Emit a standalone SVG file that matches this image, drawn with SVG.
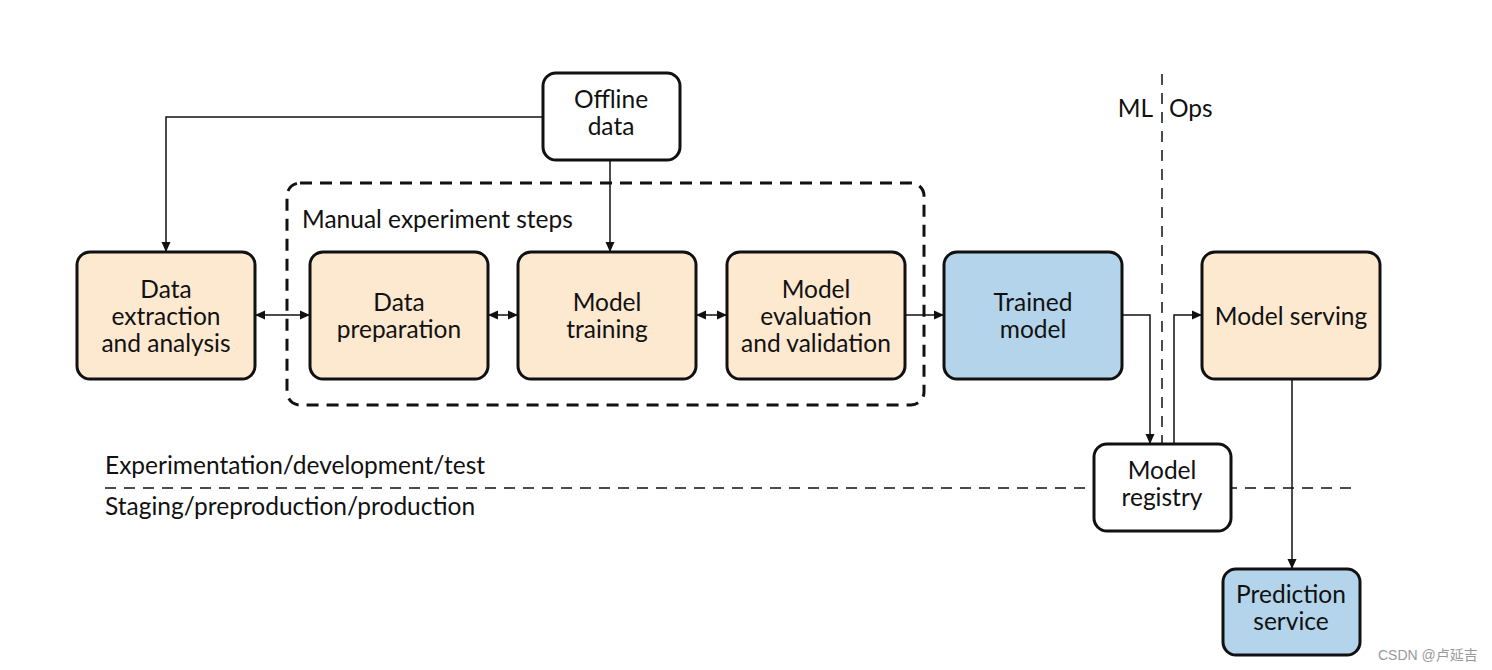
<svg xmlns="http://www.w3.org/2000/svg" width="1492" height="670" viewBox="0 0 1492 670">
<style>
.box{stroke:#111;stroke-width:3}
.tan{fill:#fde8d0}
.blue{fill:#b3d4ea}
.white{fill:#fff}
.t{font-family:Lato,"Noto Sans",sans-serif;font-size:24.5px;fill:#111;text-anchor:middle}
.lbl{font-family:Lato,"Noto Sans",sans-serif;font-size:24.5px;fill:#111}
.c{fill:none;stroke:#111;stroke-width:1.5}
.dash{fill:none;stroke:#111;stroke-width:1.5;stroke-dasharray:11 8}
</style>
<defs>
<marker id="a" viewBox="0 0 10 10" refX="10" refY="5" markerWidth="10" markerHeight="10" markerUnits="userSpaceOnUse" orient="auto-start-reverse">
<path d="M0,0.5L10,5L0,9.5z" fill="#111"/>
</marker>
</defs>
<rect width="1492" height="670" fill="#fff"/>

<g id="dividers">
<rect x="287" y="183" width="637" height="222" rx="13" fill="none" stroke="#111" stroke-width="3" stroke-dasharray="12 8"/>
<line class="dash" x1="1162" y1="74" x2="1162" y2="444"/>
<line class="dash" x1="105" y1="488" x2="1358" y2="488"/>
<text class="lbl" x="1153" y="117" text-anchor="end">ML</text>
<text class="lbl" x="1169" y="117">Ops</text>
<text class="lbl" x="302" y="228">Manual experiment steps</text>
<text class="lbl" x="105" y="474">Experimentation/development/test</text>
<text class="lbl" x="105" y="515">Staging/preproduction/production</text>
</g>

<g id="connectors">
<polyline class="c" points="543,117 166,117 166,252" marker-end="url(#a)"/>
<line class="c" x1="610" y1="160" x2="610" y2="252" marker-end="url(#a)"/>
<line class="c" x1="255" y1="315" x2="310" y2="315" marker-start="url(#a)" marker-end="url(#a)"/>
<line class="c" x1="488" y1="315" x2="518" y2="315" marker-start="url(#a)" marker-end="url(#a)"/>
<line class="c" x1="696" y1="315" x2="727" y2="315" marker-start="url(#a)" marker-end="url(#a)"/>
<line class="c" x1="905" y1="315" x2="944" y2="315" marker-end="url(#a)"/>
<polyline class="c" points="1122,315 1150,315 1150,444" marker-end="url(#a)"/>
<polyline class="c" points="1174,444 1174,315 1202,315" marker-end="url(#a)"/>
<line class="c" x1="1292" y1="379" x2="1292" y2="569" marker-end="url(#a)"/>
</g>

<g id="offline-data">
<rect class="box white" x="543" y="73" width="137" height="87" rx="13"/>
<text class="t" x="611" y="108">Offline</text>
<text class="t" x="611" y="135">data</text>
</g>
<g id="data-extraction">
<rect class="box tan" x="77" y="252" width="178" height="127" rx="13"/>
<text class="t" x="166" y="298">Data</text>
<text class="t" x="166" y="325">extraction</text>
<text class="t" x="166" y="352">and analysis</text>
</g>
<g id="data-preparation">
<rect class="box tan" x="310" y="252" width="178" height="127" rx="13"/>
<text class="t" x="399" y="311">Data</text>
<text class="t" x="399" y="338">preparation</text>
</g>
<g id="model-training">
<rect class="box tan" x="518" y="252" width="178" height="127" rx="13"/>
<text class="t" x="607" y="311">Model</text>
<text class="t" x="607" y="338">training</text>
</g>
<g id="model-evaluation">
<rect class="box tan" x="727" y="252" width="178" height="127" rx="13"/>
<text class="t" x="816" y="298">Model</text>
<text class="t" x="816" y="325">evaluation</text>
<text class="t" x="816" y="352">and validation</text>
</g>
<g id="trained-model">
<rect class="box blue" x="944" y="252" width="178" height="127" rx="13"/>
<text class="t" x="1033" y="311">Trained</text>
<text class="t" x="1033" y="338">model</text>
</g>
<g id="model-serving">
<rect class="box tan" x="1202" y="252" width="178" height="127" rx="13"/>
<text class="t" x="1291" y="325">Model serving</text>
</g>
<g id="model-registry">
<rect class="box white" x="1094" y="444" width="137" height="87" rx="13"/>
<text class="t" x="1162" y="479">Model</text>
<text class="t" x="1162" y="506">registry</text>
</g>
<g id="prediction-service">
<rect class="box blue" x="1223" y="569" width="137" height="86" rx="13"/>
<text class="t" x="1291" y="603">Prediction</text>
<text class="t" x="1291" y="630">service</text>
</g>
<text x="1378" y="660" font-family="'Liberation Sans','Noto Sans CJK SC',sans-serif" font-size="14" fill="#999">CSDN @卢延吉</text>
</svg>
